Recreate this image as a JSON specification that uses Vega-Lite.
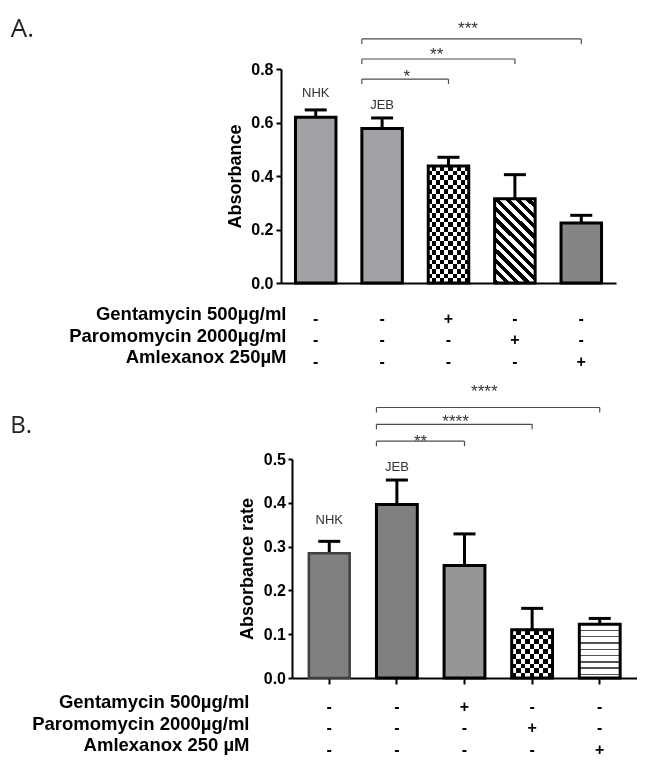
{
"$schema":"https://vega.github.io/schema/vega-lite/v6.json",
"background":"white",
"padding":{"left":0,"top":15,"right":0,"bottom":0},
"config":{"view":{"stroke":null},"font":"Liberation Sans"},
"spacing":13,
"vconcat":[
{"spacing":0,"hconcat":[
 {"width":10,"height":1,"data":{"values":[{"k":1}]},"mark":{"type":"text","text":""}},
 {"spacing":12,"vconcat":[
  {"width":335,"height":214,
   "title":{"text":"A.","anchor":"start","frame":"bounds","orient":"top","offset":0,"dx":-216,"dy":42.7,"font":"Open Sans","fontSize":26,"fontWeight":"normal","color":"#222","baseline":"alphabetic"},
   "resolve":{"scale":{"x":"independent","y":"independent"}},
   "data":{"values":[{"g":"NHK","v":0.62,"e":0.647},{"g":"JEB","v":0.578,"e":0.617},{"g":"Gentamycin","v":0.437,"e":0.47},{"g":"Paromomycin","v":0.315,"e":0.405},{"g":"Amlexanox","v":0.224,"e":0.253}]},
   "layer":[
      {"mark":{"type":"rule","color":"#000","strokeWidth":3,"opacity":1},"encoding":{"x":{"field":"g","type":"nominal","scale":{"type":"band","domain":["NHK","JEB","Gentamycin","Paromomycin","Amlexanox"],"paddingInner":0.39,"paddingOuter":0.218},"axis":null},"y":{"field":"v","type":"quantitative","scale":{"domain":[0,0.8],"nice":false,"zero":true},"axis":null},"y2":{"field":"e"}}},
      {"mark":{"type":"tick","orient":"horizontal","size":22,"thickness":3,"color":"#000","opacity":1},"encoding":{"x":{"field":"g","type":"nominal","scale":{"type":"band","domain":["NHK","JEB","Gentamycin","Paromomycin","Amlexanox"],"paddingInner":0.39,"paddingOuter":0.218},"axis":null},"y":{"field":"e","type":"quantitative","scale":{"domain":[0,0.8],"nice":false,"zero":true},"axis":null}}},
      {"transform":[{"filter":"datum.g == 'NHK' || datum.g == 'JEB'"}],"mark":{"type":"bar","fill":"#a2a2a6","strokeWidth":0,"opacity":1},"encoding":{"x":{"field":"g","type":"nominal","scale":{"type":"band","domain":["NHK","JEB","Gentamycin","Paromomycin","Amlexanox"],"paddingInner":0.39,"paddingOuter":0.218},"axis":null},"y":{"field":"v","type":"quantitative","scale":{"domain":[0,0.8],"nice":false,"zero":true},"axis":null}}},
      {"transform":[{"filter":"datum.g == 'Gentamycin'"}],"mark":{"type":"bar","strokeWidth":0,"opacity":1,"fill":{"gradient":"linear","x1":0,"y1":0,"x2":0,"y2":1,"stops":[{"offset":0,"color":"#000"},{"offset":0.04,"color":"#000"},{"offset":0.04,"color":"#fff"},{"offset":0.08,"color":"#fff"},{"offset":0.08,"color":"#000"},{"offset":0.12,"color":"#000"},{"offset":0.12,"color":"#fff"},{"offset":0.16,"color":"#fff"},{"offset":0.16,"color":"#000"},{"offset":0.2,"color":"#000"},{"offset":0.2,"color":"#fff"},{"offset":0.24,"color":"#fff"},{"offset":0.24,"color":"#000"},{"offset":0.28,"color":"#000"},{"offset":0.28,"color":"#fff"},{"offset":0.32,"color":"#fff"},{"offset":0.32,"color":"#000"},{"offset":0.36,"color":"#000"},{"offset":0.36,"color":"#fff"},{"offset":0.4,"color":"#fff"},{"offset":0.4,"color":"#000"},{"offset":0.44,"color":"#000"},{"offset":0.44,"color":"#fff"},{"offset":0.48,"color":"#fff"},{"offset":0.48,"color":"#000"},{"offset":0.52,"color":"#000"},{"offset":0.52,"color":"#fff"},{"offset":0.56,"color":"#fff"},{"offset":0.56,"color":"#000"},{"offset":0.6,"color":"#000"},{"offset":0.6,"color":"#fff"},{"offset":0.64,"color":"#fff"},{"offset":0.64,"color":"#000"},{"offset":0.68,"color":"#000"},{"offset":0.68,"color":"#fff"},{"offset":0.72,"color":"#fff"},{"offset":0.72,"color":"#000"},{"offset":0.76,"color":"#000"},{"offset":0.76,"color":"#fff"},{"offset":0.8,"color":"#fff"},{"offset":0.8,"color":"#000"},{"offset":0.84,"color":"#000"},{"offset":0.84,"color":"#fff"},{"offset":0.88,"color":"#fff"},{"offset":0.88,"color":"#000"},{"offset":0.92,"color":"#000"},{"offset":0.92,"color":"#fff"},{"offset":0.96,"color":"#fff"},{"offset":0.96,"color":"#000"},{"offset":1,"color":"#000"}]}},"encoding":{"x":{"field":"g","type":"nominal","scale":{"type":"band","domain":["NHK","JEB","Gentamycin","Paromomycin","Amlexanox"],"paddingInner":0.39,"paddingOuter":0.218},"axis":null},"y":{"field":"v","type":"quantitative","scale":{"domain":[0,0.8],"nice":false,"zero":true},"axis":null}}},
      {"transform":[{"filter":"datum.g == 'Gentamycin'"}],"mark":{"type":"bar","strokeWidth":0,"opacity":1,"blend":"difference","fill":{"gradient":"linear","x1":0,"y1":0,"x2":1,"y2":0,"stops":[{"offset":0,"color":"#fff"},{"offset":0.1,"color":"#fff"},{"offset":0.1,"color":"#000"},{"offset":0.2,"color":"#000"},{"offset":0.2,"color":"#fff"},{"offset":0.3,"color":"#fff"},{"offset":0.3,"color":"#000"},{"offset":0.4,"color":"#000"},{"offset":0.4,"color":"#fff"},{"offset":0.5,"color":"#fff"},{"offset":0.5,"color":"#000"},{"offset":0.6,"color":"#000"},{"offset":0.6,"color":"#fff"},{"offset":0.7,"color":"#fff"},{"offset":0.7,"color":"#000"},{"offset":0.8,"color":"#000"},{"offset":0.8,"color":"#fff"},{"offset":0.9,"color":"#fff"},{"offset":0.9,"color":"#000"},{"offset":1,"color":"#000"}]}},"encoding":{"x":{"field":"g","type":"nominal","scale":{"type":"band","domain":["NHK","JEB","Gentamycin","Paromomycin","Amlexanox"],"paddingInner":0.39,"paddingOuter":0.218},"axis":null},"y":{"field":"v","type":"quantitative","scale":{"domain":[0,0.8],"nice":false,"zero":true},"axis":null}}},
      {"transform":[{"filter":"datum.g == 'Paromomycin'"}],"mark":{"type":"bar","strokeWidth":0,"opacity":1,"fill":{"gradient":"linear","x1":0,"y1":1,"x2":0.576,"y2":-0.203,"stops":[{"offset":0,"color":"#000"},{"offset":0.0417,"color":"#000"},{"offset":0.0417,"color":"#fff"},{"offset":0.0833,"color":"#fff"},{"offset":0.0833,"color":"#000"},{"offset":0.125,"color":"#000"},{"offset":0.125,"color":"#fff"},{"offset":0.1667,"color":"#fff"},{"offset":0.1667,"color":"#000"},{"offset":0.2083,"color":"#000"},{"offset":0.2083,"color":"#fff"},{"offset":0.25,"color":"#fff"},{"offset":0.25,"color":"#000"},{"offset":0.2917,"color":"#000"},{"offset":0.2917,"color":"#fff"},{"offset":0.3333,"color":"#fff"},{"offset":0.3333,"color":"#000"},{"offset":0.375,"color":"#000"},{"offset":0.375,"color":"#fff"},{"offset":0.4167,"color":"#fff"},{"offset":0.4167,"color":"#000"},{"offset":0.4583,"color":"#000"},{"offset":0.4583,"color":"#fff"},{"offset":0.5,"color":"#fff"},{"offset":0.5,"color":"#000"},{"offset":0.5417,"color":"#000"},{"offset":0.5417,"color":"#fff"},{"offset":0.5833,"color":"#fff"},{"offset":0.5833,"color":"#000"},{"offset":0.625,"color":"#000"},{"offset":0.625,"color":"#fff"},{"offset":0.6667,"color":"#fff"},{"offset":0.6667,"color":"#000"},{"offset":0.7083,"color":"#000"},{"offset":0.7083,"color":"#fff"},{"offset":0.75,"color":"#fff"},{"offset":0.75,"color":"#000"},{"offset":0.7917,"color":"#000"},{"offset":0.7917,"color":"#fff"},{"offset":0.8333,"color":"#fff"},{"offset":0.8333,"color":"#000"},{"offset":0.875,"color":"#000"},{"offset":0.875,"color":"#fff"},{"offset":0.9167,"color":"#fff"},{"offset":0.9167,"color":"#000"},{"offset":0.9583,"color":"#000"},{"offset":0.9583,"color":"#fff"},{"offset":1,"color":"#fff"}]}},"encoding":{"x":{"field":"g","type":"nominal","scale":{"type":"band","domain":["NHK","JEB","Gentamycin","Paromomycin","Amlexanox"],"paddingInner":0.39,"paddingOuter":0.218},"axis":null},"y":{"field":"v","type":"quantitative","scale":{"domain":[0,0.8],"nice":false,"zero":true},"axis":null}}},
      {"transform":[{"filter":"datum.g == 'Amlexanox'"}],"mark":{"type":"bar","fill":"#858585","strokeWidth":0,"opacity":1},"encoding":{"x":{"field":"g","type":"nominal","scale":{"type":"band","domain":["NHK","JEB","Gentamycin","Paromomycin","Amlexanox"],"paddingInner":0.39,"paddingOuter":0.218},"axis":null},"y":{"field":"v","type":"quantitative","scale":{"domain":[0,0.8],"nice":false,"zero":true},"axis":null}}},
      {"mark":{"type":"bar","fill":"transparent","stroke":"#000","strokeWidth":3,"opacity":1},"encoding":{"x":{"field":"g","type":"nominal","scale":{"type":"band","domain":["NHK","JEB","Gentamycin","Paromomycin","Amlexanox"],"paddingInner":0.39,"paddingOuter":0.218},"axis":{"orient":"bottom","title":null,"labels":false,"ticks":false,"domainColor":"#000","domainWidth":2}},"y":{"field":"v","type":"quantitative","scale":{"domain":[0,0.8],"nice":false,"zero":true},"axis":{"orient":"left","values":[0,0.2,0.4,0.6,0.8],"format":".1f","title":"Absorbance","grid":false,"domainColor":"#000","domainWidth":2,"tickColor":"#000","tickWidth":2,"tickSize":5,"labelFont":"Liberation Sans","labelFontSize":16,"labelFontWeight":"bold","labelColor":"#000","labelPadding":3,"titleFont":"Liberation Sans","titleFontSize":18,"titleFontWeight":"bold","titleColor":"#000","titlePadding":6}}}},
      {"transform":[{"filter":"datum.g == 'NHK'"}],"mark":{"type":"text","fontSize":13,"color":"#333","dy":-12.9,"baseline":"alphabetic"},"encoding":{"x":{"field":"g","type":"nominal","scale":{"type":"band","domain":["NHK","JEB","Gentamycin","Paromomycin","Amlexanox"],"paddingInner":0.39,"paddingOuter":0.218},"axis":null},"y":{"field":"e","type":"quantitative","scale":{"domain":[0,0.8],"nice":false,"zero":true},"axis":null},"text":{"field":"g"}}},
      {"transform":[{"filter":"datum.g == 'JEB'"}],"mark":{"type":"text","fontSize":13,"color":"#333","dy":-9.3,"baseline":"alphabetic"},"encoding":{"x":{"field":"g","type":"nominal","scale":{"type":"band","domain":["NHK","JEB","Gentamycin","Paromomycin","Amlexanox"],"paddingInner":0.39,"paddingOuter":0.218},"axis":null},"y":{"field":"e","type":"quantitative","scale":{"domain":[0,0.8],"nice":false,"zero":true},"axis":null},"text":{"field":"g"}}},
      {"data":{"values":[{"from":"JEB","to":"Gentamycin","tier":1,"stars":"*"},{"from":"JEB","to":"Paromomycin","tier":2,"stars":"**"},{"from":"JEB","to":"Amlexanox","tier":3,"stars":"***"}]},
       "layer":[
        {"mark":{"type":"rule","color":"#4d4d4d","strokeWidth":1.2,"opacity":1},"encoding":{"x":{"field":"from","type":"nominal","bandPosition":0,"scale":{"type":"band","domain":["NHK","JEB","Gentamycin","Paromomycin","Amlexanox"],"paddingInner":0.39,"paddingOuter":0.218},"axis":null},"x2":{"field":"to"},"y":{"field":"tier","type":"quantitative","scale":{"domain":[-9.172,1.501],"nice":false,"zero":false},"axis":null}}},
        {"mark":{"type":"tick","orient":"vertical","size":5,"thickness":1.2,"color":"#4d4d4d","opacity":1},"encoding":{"x":{"field":"from","type":"nominal","bandPosition":0,"scale":{"type":"band","domain":["NHK","JEB","Gentamycin","Paromomycin","Amlexanox"],"paddingInner":0.39,"paddingOuter":0.218},"axis":null},"y":{"field":"tier","type":"quantitative","scale":{"domain":[-9.172,1.501],"nice":false,"zero":false},"axis":null},"yOffset":{"value":2.5}}},
        {"mark":{"type":"tick","orient":"vertical","size":5,"thickness":1.2,"color":"#4d4d4d","opacity":1},"encoding":{"x":{"field":"to","type":"nominal","scale":{"type":"band","domain":["NHK","JEB","Gentamycin","Paromomycin","Amlexanox"],"paddingInner":0.39,"paddingOuter":0.218},"axis":null},"y":{"field":"tier","type":"quantitative","scale":{"domain":[-9.172,1.501],"nice":false,"zero":false},"axis":null},"yOffset":{"value":2.5}}},
        {"transform":[{"filter":"datum.tier == 1"}],"mark":{"type":"text","fontSize":17,"color":"#333","dx":-41.75,"dy":2.9,"baseline":"alphabetic"},"encoding":{"x":{"field":"to","type":"nominal","scale":{"type":"band","domain":["NHK","JEB","Gentamycin","Paromomycin","Amlexanox"],"paddingInner":0.39,"paddingOuter":0.218},"axis":null},"y":{"field":"tier","type":"quantitative","scale":{"domain":[-9.172,1.501],"nice":false,"zero":false},"axis":null},"text":{"field":"stars"}}},
        {"transform":[{"filter":"datum.tier == 2"}],"mark":{"type":"text","fontSize":17,"color":"#333","dx":-78.25,"dy":0.8,"baseline":"alphabetic"},"encoding":{"x":{"field":"to","type":"nominal","scale":{"type":"band","domain":["NHK","JEB","Gentamycin","Paromomycin","Amlexanox"],"paddingInner":0.39,"paddingOuter":0.218},"axis":null},"y":{"field":"tier","type":"quantitative","scale":{"domain":[-9.172,1.501],"nice":false,"zero":false},"axis":null},"text":{"field":"stars"}}},
        {"transform":[{"filter":"datum.tier == 3"}],"mark":{"type":"text","fontSize":17,"color":"#333","dx":-113.25,"dy":-5.1,"baseline":"alphabetic"},"encoding":{"x":{"field":"to","type":"nominal","scale":{"type":"band","domain":["NHK","JEB","Gentamycin","Paromomycin","Amlexanox"],"paddingInner":0.39,"paddingOuter":0.218},"axis":null},"y":{"field":"tier","type":"quantitative","scale":{"domain":[-9.172,1.501],"nice":false,"zero":false},"axis":null},"text":{"field":"stars"}}}
       ],
       "resolve":{"scale":{"x":"shared","y":"shared"}}}
   ]},
  {"width":335,"height":64.5,
   "data":{"values":[
    {"r":"Gentamycin 500µg/ml","g":"NHK","s":"-"},{"r":"Gentamycin 500µg/ml","g":"JEB","s":"-"},{"r":"Gentamycin 500µg/ml","g":"Gentamycin","s":"+"},{"r":"Gentamycin 500µg/ml","g":"Paromomycin","s":"-"},{"r":"Gentamycin 500µg/ml","g":"Amlexanox","s":"-"},
    {"r":"Paromomycin 2000µg/ml","g":"NHK","s":"-"},{"r":"Paromomycin 2000µg/ml","g":"JEB","s":"-"},{"r":"Paromomycin 2000µg/ml","g":"Gentamycin","s":"-"},{"r":"Paromomycin 2000µg/ml","g":"Paromomycin","s":"+"},{"r":"Paromomycin 2000µg/ml","g":"Amlexanox","s":"-"},
    {"r":"Amlexanox 250µM","g":"NHK","s":"-"},{"r":"Amlexanox 250µM","g":"JEB","s":"-"},{"r":"Amlexanox 250µM","g":"Gentamycin","s":"-"},{"r":"Amlexanox 250µM","g":"Paromomycin","s":"-"},{"r":"Amlexanox 250µM","g":"Amlexanox","s":"+"}]},
   "mark":{"type":"text","fontSize":16,"fontWeight":"bold","color":"#000","dy":5,"baseline":"middle"},
   "encoding":{
    "x":{"field":"g","type":"nominal","scale":{"type":"band","domain":["NHK","JEB","Gentamycin","Paromomycin","Amlexanox"],"paddingInner":0.39,"paddingOuter":0.218},"axis":null},
    "y":{"field":"r","type":"nominal","scale":{"domain":["Gentamycin 500µg/ml","Paromomycin 2000µg/ml","Amlexanox 250µM"]},"axis":{"orient":"left","title":null,"domain":false,"ticks":false,"labelFont":"Liberation Sans","labelFontSize":18.5,"labelFontWeight":"bold","labelColor":"#000","labelPadding":-5,"labelLimit":400}},
    "text":{"field":"s"}}}
 ]}
]},
{"spacing":0,"hconcat":[
 {"width":10,"height":1,"data":{"values":[{"k":1}]},"mark":{"type":"text","text":""}},
 {"spacing":5,"vconcat":[
  {"width":345,"height":219,
   "title":{"text":"B.","anchor":"start","frame":"bounds","orient":"top","offset":0,"dx":-228,"dy":73.7,"font":"Open Sans","fontSize":24,"fontWeight":"normal","color":"#222","baseline":"alphabetic"},
   "resolve":{"scale":{"x":"independent","y":"independent"}},
   "data":{"values":[{"g":"NHK","v":0.285,"e":0.312},{"g":"JEB","v":0.396,"e":0.452},{"g":"Gentamycin","v":0.257,"e":0.329},{"g":"Paromomycin","v":0.11,"e":0.159},{"g":"Amlexanox","v":0.123,"e":0.136}]},
   "layer":[
      {"mark":{"type":"rule","color":"#000","strokeWidth":3,"opacity":1},"encoding":{"x":{"field":"g","type":"nominal","scale":{"type":"band","domain":["NHK","JEB","Gentamycin","Paromomycin","Amlexanox"],"paddingInner":0.396,"paddingOuter":0.249},"axis":null},"y":{"field":"v","type":"quantitative","scale":{"domain":[0,0.5],"nice":false,"zero":true},"axis":null},"y2":{"field":"e"}}},
      {"mark":{"type":"tick","orient":"horizontal","size":22,"thickness":3,"color":"#000","opacity":1},"encoding":{"x":{"field":"g","type":"nominal","scale":{"type":"band","domain":["NHK","JEB","Gentamycin","Paromomycin","Amlexanox"],"paddingInner":0.396,"paddingOuter":0.249},"axis":null},"y":{"field":"e","type":"quantitative","scale":{"domain":[0,0.5],"nice":false,"zero":true},"axis":null}}},
      {"transform":[{"filter":"datum.g == 'NHK' || datum.g == 'JEB'"}],"mark":{"type":"bar","fill":"#808080","strokeWidth":0,"opacity":1},"encoding":{"x":{"field":"g","type":"nominal","scale":{"type":"band","domain":["NHK","JEB","Gentamycin","Paromomycin","Amlexanox"],"paddingInner":0.396,"paddingOuter":0.249},"axis":null},"y":{"field":"v","type":"quantitative","scale":{"domain":[0,0.5],"nice":false,"zero":true},"axis":null}}},
      {"transform":[{"filter":"datum.g == 'Gentamycin'"}],"mark":{"type":"bar","fill":"#969696","strokeWidth":0,"opacity":1},"encoding":{"x":{"field":"g","type":"nominal","scale":{"type":"band","domain":["NHK","JEB","Gentamycin","Paromomycin","Amlexanox"],"paddingInner":0.396,"paddingOuter":0.249},"axis":null},"y":{"field":"v","type":"quantitative","scale":{"domain":[0,0.5],"nice":false,"zero":true},"axis":null}}},
      {"transform":[{"filter":"datum.g == 'Paromomycin'"}],"mark":{"type":"bar","strokeWidth":0,"opacity":1,"fill":{"gradient":"linear","x1":0,"y1":0,"x2":0,"y2":1,"stops":[{"offset":0,"color":"#000"},{"offset":0.1,"color":"#000"},{"offset":0.1,"color":"#fff"},{"offset":0.2,"color":"#fff"},{"offset":0.2,"color":"#000"},{"offset":0.3,"color":"#000"},{"offset":0.3,"color":"#fff"},{"offset":0.4,"color":"#fff"},{"offset":0.4,"color":"#000"},{"offset":0.5,"color":"#000"},{"offset":0.5,"color":"#fff"},{"offset":0.6,"color":"#fff"},{"offset":0.6,"color":"#000"},{"offset":0.7,"color":"#000"},{"offset":0.7,"color":"#fff"},{"offset":0.8,"color":"#fff"},{"offset":0.8,"color":"#000"},{"offset":0.9,"color":"#000"},{"offset":0.9,"color":"#fff"},{"offset":1,"color":"#fff"}]}},"encoding":{"x":{"field":"g","type":"nominal","scale":{"type":"band","domain":["NHK","JEB","Gentamycin","Paromomycin","Amlexanox"],"paddingInner":0.396,"paddingOuter":0.249},"axis":null},"y":{"field":"v","type":"quantitative","scale":{"domain":[0,0.5],"nice":false,"zero":true},"axis":null}}},
      {"transform":[{"filter":"datum.g == 'Paromomycin'"}],"mark":{"type":"bar","strokeWidth":0,"opacity":1,"blend":"difference","fill":{"gradient":"linear","x1":0,"y1":0,"x2":1,"y2":0,"stops":[{"offset":0,"color":"#fff"},{"offset":0.1111,"color":"#fff"},{"offset":0.1111,"color":"#000"},{"offset":0.2222,"color":"#000"},{"offset":0.2222,"color":"#fff"},{"offset":0.3333,"color":"#fff"},{"offset":0.3333,"color":"#000"},{"offset":0.4444,"color":"#000"},{"offset":0.4444,"color":"#fff"},{"offset":0.5556,"color":"#fff"},{"offset":0.5556,"color":"#000"},{"offset":0.6667,"color":"#000"},{"offset":0.6667,"color":"#fff"},{"offset":0.7778,"color":"#fff"},{"offset":0.7778,"color":"#000"},{"offset":0.8889,"color":"#000"},{"offset":0.8889,"color":"#fff"},{"offset":1,"color":"#fff"}]}},"encoding":{"x":{"field":"g","type":"nominal","scale":{"type":"band","domain":["NHK","JEB","Gentamycin","Paromomycin","Amlexanox"],"paddingInner":0.396,"paddingOuter":0.249},"axis":null},"y":{"field":"v","type":"quantitative","scale":{"domain":[0,0.5],"nice":false,"zero":true},"axis":null}}},
      {"transform":[{"filter":"datum.g == 'Amlexanox'"}],"mark":{"type":"bar","strokeWidth":0,"opacity":1,"fill":{"gradient":"linear","x1":0,"y1":0,"x2":0,"y2":1,"stops":[{"offset":0,"color":"#fff"},{"offset":0.103,"color":"#fff"},{"offset":0.103,"color":"#555"},{"offset":0.131,"color":"#555"},{"offset":0.131,"color":"#fff"},{"offset":0.22,"color":"#fff"},{"offset":0.22,"color":"#555"},{"offset":0.248,"color":"#555"},{"offset":0.248,"color":"#fff"},{"offset":0.337,"color":"#fff"},{"offset":0.337,"color":"#555"},{"offset":0.365,"color":"#555"},{"offset":0.365,"color":"#fff"},{"offset":0.454,"color":"#fff"},{"offset":0.454,"color":"#555"},{"offset":0.482,"color":"#555"},{"offset":0.482,"color":"#fff"},{"offset":0.571,"color":"#fff"},{"offset":0.571,"color":"#555"},{"offset":0.599,"color":"#555"},{"offset":0.599,"color":"#fff"},{"offset":0.688,"color":"#fff"},{"offset":0.688,"color":"#555"},{"offset":0.716,"color":"#555"},{"offset":0.716,"color":"#fff"},{"offset":0.805,"color":"#fff"},{"offset":0.805,"color":"#555"},{"offset":0.833,"color":"#555"},{"offset":0.833,"color":"#fff"},{"offset":0.922,"color":"#fff"},{"offset":0.922,"color":"#555"},{"offset":0.95,"color":"#555"},{"offset":0.95,"color":"#fff"},{"offset":1,"color":"#fff"}]}},"encoding":{"x":{"field":"g","type":"nominal","scale":{"type":"band","domain":["NHK","JEB","Gentamycin","Paromomycin","Amlexanox"],"paddingInner":0.396,"paddingOuter":0.249},"axis":null},"y":{"field":"v","type":"quantitative","scale":{"domain":[0,0.5],"nice":false,"zero":true},"axis":null}}},
      {"transform":[{"filter":"datum.g == 'NHK'"}],"mark":{"type":"bar","fill":"transparent","stroke":"#404040","strokeWidth":2.5,"opacity":1},"encoding":{"x":{"field":"g","type":"nominal","scale":{"type":"band","domain":["NHK","JEB","Gentamycin","Paromomycin","Amlexanox"],"paddingInner":0.396,"paddingOuter":0.249},"axis":null},"y":{"field":"v","type":"quantitative","scale":{"domain":[0,0.5],"nice":false,"zero":true},"axis":null}}},
      {"mark":{"type":"bar","fill":"transparent","stroke":{"expr":"datum.g == 'NHK' ? 'transparent' : '#000'"},"strokeWidth":3,"opacity":1},"encoding":{"x":{"field":"g","type":"nominal","scale":{"type":"band","domain":["NHK","JEB","Gentamycin","Paromomycin","Amlexanox"],"paddingInner":0.396,"paddingOuter":0.249},"axis":{"orient":"bottom","title":null,"labels":false,"ticks":true,"tickSize":6,"tickWidth":2,"tickColor":"#000","domainColor":"#000","domainWidth":2}},"y":{"field":"v","type":"quantitative","scale":{"domain":[0,0.5],"nice":false,"zero":true},"axis":{"orient":"left","values":[0,0.1,0.2,0.3,0.4,0.5],"format":".1f","title":"Absorbance rate","grid":false,"domainColor":"#000","domainWidth":2,"tickColor":"#000","tickWidth":2,"tickSize":4,"labelFont":"Liberation Sans","labelFontSize":16,"labelFontWeight":"bold","labelColor":"#000","labelPadding":2.5,"titleFont":"Liberation Sans","titleFontSize":18,"titleFontWeight":"bold","titleColor":"#000","titlePadding":7}}}},
      {"transform":[{"filter":"datum.g == 'NHK'"}],"mark":{"type":"text","fontSize":13,"color":"#333","dy":-16.9,"baseline":"alphabetic"},"encoding":{"x":{"field":"g","type":"nominal","scale":{"type":"band","domain":["NHK","JEB","Gentamycin","Paromomycin","Amlexanox"],"paddingInner":0.396,"paddingOuter":0.249},"axis":null},"y":{"field":"e","type":"quantitative","scale":{"domain":[0,0.5],"nice":false,"zero":true},"axis":null},"text":{"field":"g"}}},
      {"transform":[{"filter":"datum.g == 'JEB'"}],"mark":{"type":"text","fontSize":13,"color":"#333","dy":-9.4,"baseline":"alphabetic"},"encoding":{"x":{"field":"g","type":"nominal","scale":{"type":"band","domain":["NHK","JEB","Gentamycin","Paromomycin","Amlexanox"],"paddingInner":0.396,"paddingOuter":0.249},"axis":null},"y":{"field":"e","type":"quantitative","scale":{"domain":[0,0.5],"nice":false,"zero":true},"axis":null},"text":{"field":"g"}}},
      {"data":{"values":[{"from":"JEB","to":"Gentamycin","tier":1,"stars":"**"},{"from":"JEB","to":"Paromomycin","tier":2,"stars":"****"},{"from":"JEB","to":"Amlexanox","tier":3,"stars":"****"}]},
       "layer":[
        {"mark":{"type":"rule","color":"#4d4d4d","strokeWidth":1.2,"opacity":1},"encoding":{"x":{"field":"from","type":"nominal","bandPosition":0,"scale":{"type":"band","domain":["NHK","JEB","Gentamycin","Paromomycin","Amlexanox"],"paddingInner":0.396,"paddingOuter":0.249},"axis":null},"x2":{"field":"to"},"y":{"field":"tier","type":"quantitative","scale":{"domain":[-13.052,-0.055],"nice":false,"zero":false},"axis":null}}},
        {"mark":{"type":"tick","orient":"vertical","size":5,"thickness":1.2,"color":"#4d4d4d","opacity":1},"encoding":{"x":{"field":"from","type":"nominal","bandPosition":0,"scale":{"type":"band","domain":["NHK","JEB","Gentamycin","Paromomycin","Amlexanox"],"paddingInner":0.396,"paddingOuter":0.249},"axis":null},"y":{"field":"tier","type":"quantitative","scale":{"domain":[-13.052,-0.055],"nice":false,"zero":false},"axis":null},"yOffset":{"value":2.5}}},
        {"mark":{"type":"tick","orient":"vertical","size":5,"thickness":1.2,"color":"#4d4d4d","opacity":1},"encoding":{"x":{"field":"to","type":"nominal","scale":{"type":"band","domain":["NHK","JEB","Gentamycin","Paromomycin","Amlexanox"],"paddingInner":0.396,"paddingOuter":0.249},"axis":null},"y":{"field":"tier","type":"quantitative","scale":{"domain":[-13.052,-0.055],"nice":false,"zero":false},"axis":null},"yOffset":{"value":2.5}}},
        {"transform":[{"filter":"datum.tier == 1"}],"mark":{"type":"text","fontSize":17,"color":"#333","dx":-44,"dy":5.5,"baseline":"alphabetic"},"encoding":{"x":{"field":"to","type":"nominal","scale":{"type":"band","domain":["NHK","JEB","Gentamycin","Paromomycin","Amlexanox"],"paddingInner":0.396,"paddingOuter":0.249},"axis":null},"y":{"field":"tier","type":"quantitative","scale":{"domain":[-13.052,-0.055],"nice":false,"zero":false},"axis":null},"text":{"field":"stars"}}},
        {"transform":[{"filter":"datum.tier == 2"}],"mark":{"type":"text","fontSize":17,"color":"#333","dx":-76.6,"dy":2.4,"baseline":"alphabetic"},"encoding":{"x":{"field":"to","type":"nominal","scale":{"type":"band","domain":["NHK","JEB","Gentamycin","Paromomycin","Amlexanox"],"paddingInner":0.396,"paddingOuter":0.249},"axis":null},"y":{"field":"tier","type":"quantitative","scale":{"domain":[-13.052,-0.055],"nice":false,"zero":false},"axis":null},"text":{"field":"stars"}}},
        {"transform":[{"filter":"datum.tier == 3"}],"mark":{"type":"text","fontSize":17,"color":"#333","dx":-115.4,"dy":-10.2,"baseline":"alphabetic"},"encoding":{"x":{"field":"to","type":"nominal","scale":{"type":"band","domain":["NHK","JEB","Gentamycin","Paromomycin","Amlexanox"],"paddingInner":0.396,"paddingOuter":0.249},"axis":null},"y":{"field":"tier","type":"quantitative","scale":{"domain":[-13.052,-0.055],"nice":false,"zero":false},"axis":null},"text":{"field":"stars"}}}
       ],
       "resolve":{"scale":{"x":"shared","y":"shared"}}}
   ]},
  {"width":345,"height":64.5,
   "data":{"values":[
    {"r":"Gentamycin 500µg/ml","g":"NHK","s":"-"},{"r":"Gentamycin 500µg/ml","g":"JEB","s":"-"},{"r":"Gentamycin 500µg/ml","g":"Gentamycin","s":"+"},{"r":"Gentamycin 500µg/ml","g":"Paromomycin","s":"-"},{"r":"Gentamycin 500µg/ml","g":"Amlexanox","s":"-"},
    {"r":"Paromomycin 2000µg/ml","g":"NHK","s":"-"},{"r":"Paromomycin 2000µg/ml","g":"JEB","s":"-"},{"r":"Paromomycin 2000µg/ml","g":"Gentamycin","s":"-"},{"r":"Paromomycin 2000µg/ml","g":"Paromomycin","s":"+"},{"r":"Paromomycin 2000µg/ml","g":"Amlexanox","s":"-"},
    {"r":"Amlexanox 250 µM","g":"NHK","s":"-"},{"r":"Amlexanox 250 µM","g":"JEB","s":"-"},{"r":"Amlexanox 250 µM","g":"Gentamycin","s":"-"},{"r":"Amlexanox 250 µM","g":"Paromomycin","s":"-"},{"r":"Amlexanox 250 µM","g":"Amlexanox","s":"+"}]},
   "mark":{"type":"text","fontSize":16,"fontWeight":"bold","color":"#000","dy":5,"baseline":"middle"},
   "encoding":{
    "x":{"field":"g","type":"nominal","scale":{"type":"band","domain":["NHK","JEB","Gentamycin","Paromomycin","Amlexanox"],"paddingInner":0.396,"paddingOuter":0.249},"axis":null},
    "y":{"field":"r","type":"nominal","scale":{"domain":["Gentamycin 500µg/ml","Paromomycin 2000µg/ml","Amlexanox 250 µM"]},"axis":{"orient":"left","title":null,"domain":false,"ticks":false,"labelFont":"Liberation Sans","labelFontSize":18.5,"labelFontWeight":"bold","labelColor":"#000","labelPadding":43,"labelLimit":400}},
    "text":{"field":"s"}}}
 ]}
]}
]
}
